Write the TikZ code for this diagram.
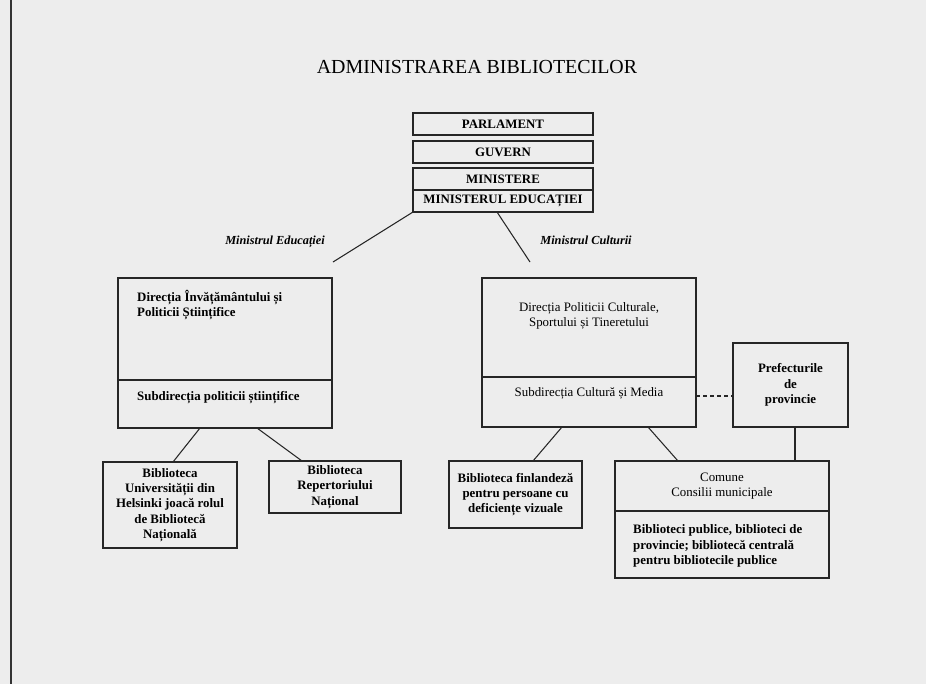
\documentclass[tikz,border=0pt]{standalone}
\usepackage{fontspec}
\setmainfont{Liberation Serif}
\usetikzlibrary{positioning}
\begin{document}
\begin{tikzpicture}[x=0.3mm,y=-0.3mm,
  box/.style 2 args={draw=black!85,line width=1.1pt,inner sep=0pt,outer sep=0pt,
    minimum width=#1*0.3mm,minimum height=#2*0.3mm,align=center,
    font=\fontsize{11}{13}\selectfont\bfseries},
  txt/.style={inner sep=0pt,align=left,font=\fontsize{11}{13}\selectfont\bfseries},
  lbl/.style={inner sep=0pt,font=\fontsize{10.5}{12}\selectfont\bfseries\itshape},
  link/.style={draw=black!85,line width=0.9pt}]
\fill[black!7] (0,0) rectangle (926,684);
\useasboundingbox (0,0) rectangle (926,684);
\draw[black!80,line width=1.2pt] (11,0) -- (11,684);
\node[inner sep=0pt,font=\fontsize{17}{20}\selectfont] (title) at (477,67) {ADMINISTRAREA BIBLIOTECILOR};
\node[box={180}{22}] (parl) at (503,124) {PARLAMENT};
\node[box={180}{22},below=1.8mm of parl] (guv) {GUVERN};
\node[box={180}{22},below=1.5mm of guv] (min) {MINISTERE};
\node[box={180}{22},below=0pt of min] (mined) {MINISTERUL EDUCAȚIEI};
\coordinate (edL) at (333,262);
\coordinate (ecR) at (530,262);
\draw[link] (mined.south west) -- (edL);
\draw[link] ([xshift=-1.8mm]mined.south) -- (ecR);
\node[lbl] (lblE) at (275,242) {Ministrul Educației};
\node[lbl] (lblC) at (586,240) {Ministrul Culturii};
\node[box={214}{102}] (dirL) at (225,329) {};
\node[box={214}{48},below=0pt of dirL] (subL) {};
\node[txt,anchor=west] (dirLt) at (137,305) {Direcția Învățământului și\\Politicii Științifice};
\node[txt,anchor=west] (subLt) at (137,398) {Subdirecția politicii științifice};
\node[box={214}{99}] (dirR) at (589,327.5) {};
\node[box={214}{50},below=0pt of dirR] (subR) {\mdseries Subdirecția Cultură și Media\\[1.2mm]};
\node[txt,align=center,font=\fontsize{11}{13}\selectfont] (dirRt) at (589,316) {Direcția Politicii Culturale,\\Sportului și Tineretului};
\node[box={115}{84}] (pref) at (790.5,385) {Prefecturile\\de\\provincie};
\draw[link,dashed] ([yshift=1.8mm]subR.east) -- ([yshift=1.8mm]subR.east -| pref.west);
\node[box={134}{86}] (univ) at (170,505) {Biblioteca\\Universității din\\Helsinki joacă rolul\\de Bibliotecă\\Națională};
\node[box={132}{52}] (rep) at (335,487) {Biblioteca\\Repertoriului\\Național};
\node[box={133}{67}] (finl) at (515.5,494.5) {Biblioteca finlandeză\\pentru persoane cu\\deficiențe vizuale};
\node[box={214}{50},font=\fontsize{11}{13}\selectfont] (comune) at (722,486) {Comune\\Consilii municipale};
\node[box={214}{67},below=0pt of comune] (bibpub) {};
\node[txt,anchor=west] (bibpubt) at (633,546) {Biblioteci publice, biblioteci de\\provincie; bibliotecă centrală\\pentru bibliotecile publice};
\draw[link] ([xshift=-25*0.3mm]subL.south) -- ([xshift=3*0.3mm]univ.north);
\draw[link] ([xshift=32*0.3mm]subL.south) -- ([xshift=-33*0.3mm]rep.north);
\draw[link] ([xshift=-27*0.3mm]subR.south) -- ([xshift=17.5*0.3mm]finl.north);
\draw[link] ([xshift=59*0.3mm]subR.south) -- ([xshift=-44*0.3mm]comune.north);
\draw[link] ([xshift=4.5*0.3mm]pref.south) -- ([xshift=4.5*0.3mm]pref.south |- comune.north);
\end{tikzpicture}
\end{document}
